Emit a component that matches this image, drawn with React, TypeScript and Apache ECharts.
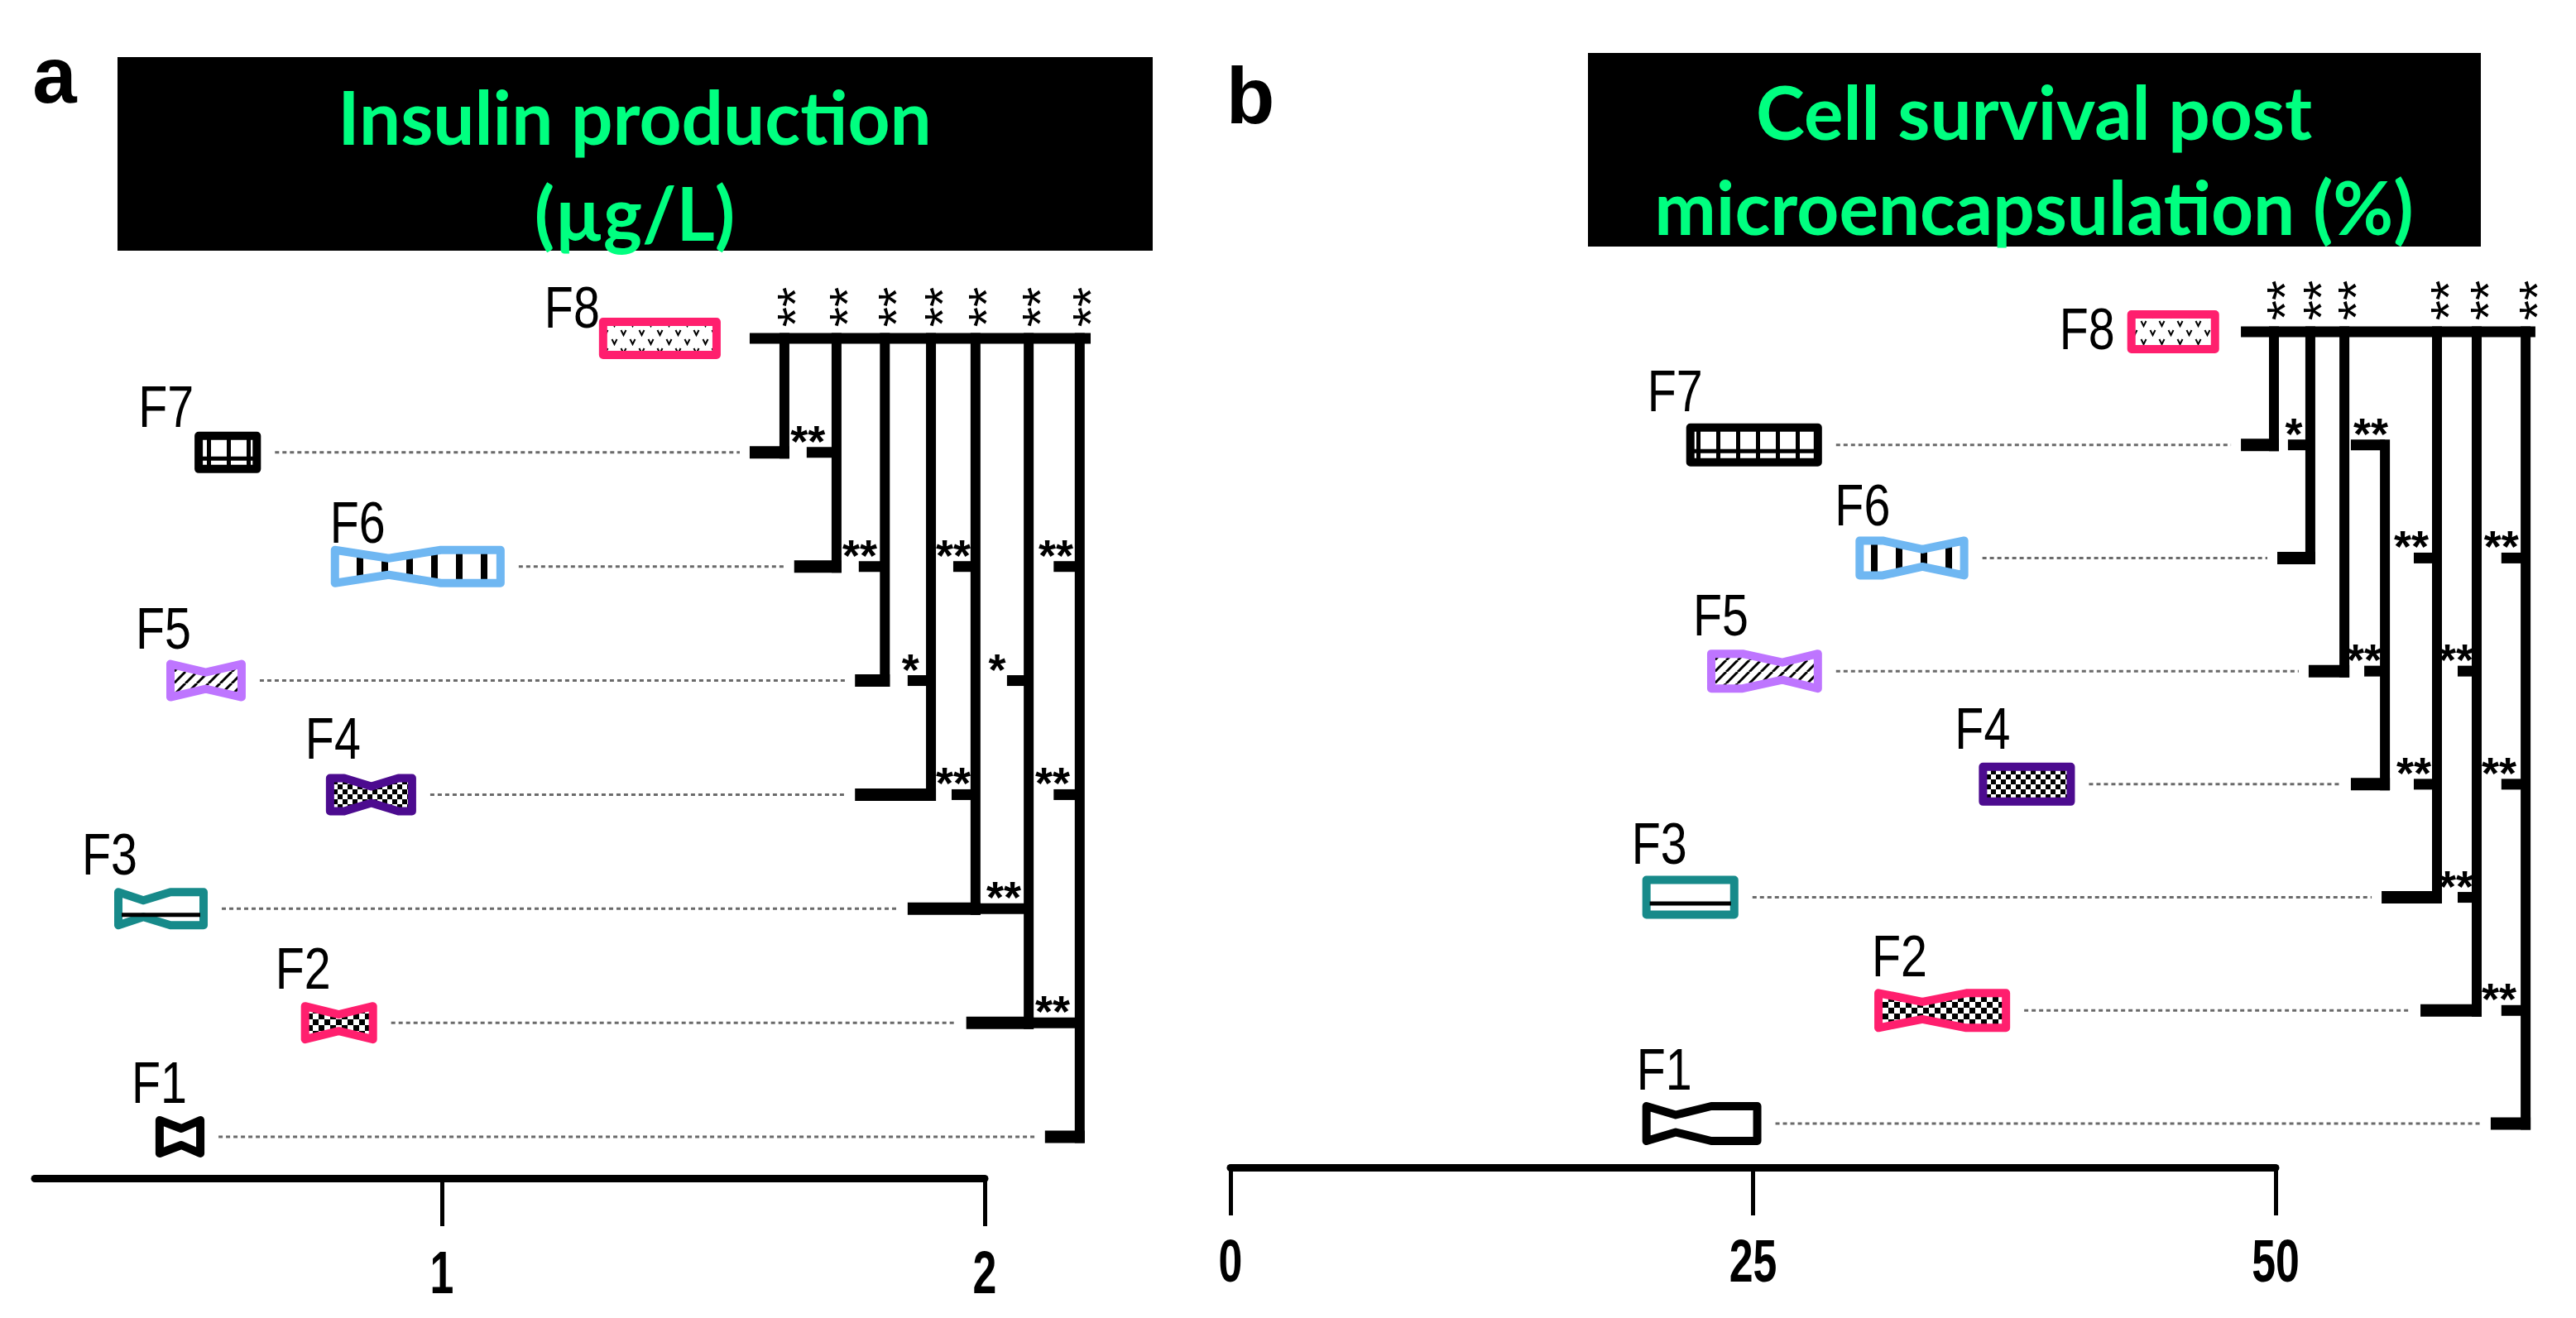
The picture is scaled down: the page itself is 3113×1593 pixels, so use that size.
import React, { useEffect, useRef } from 'react';
import * as echarts from 'echarts';

// ---------------- data ----------------
const CATEGORIES = ['F1', 'F2', 'F3', 'F4', 'F5', 'F6', 'F7', 'F8'];

// Panel a: Insulin production (µg/L)
const A_TICK_VALUES = [1, 2];
const A_Q1 = [0.48, 0.748, 0.404, 0.794, 0.5, 0.803, 0.552, 1.297];
const A_MEDIAN = [0.52, 0.81, 0.45, 0.87, 0.565, 0.902, 0.6, 1.4];
const A_Q3 = [0.555, 0.873, 0.561, 0.945, 0.631, 1.108, 0.659, 1.506];
const A_NOTCH_LO = [0.48, 0.748, 0.404, 0.82, 0.5, 0.803, 0.6, 1.4];
const A_NOTCH_HI = [0.555, 0.873, 0.5, 0.92, 0.631, 0.998, 0.6, 1.4];
// significance brackets (panel a)
const A_TOP_BAR = [1.567, 2.186];
const A_VERT_X = [1.631, 1.727, 1.816, 1.901, 1.983, 2.081, 2.175];
const A_VERT_TOP = ['F8', 'F8', 'F8', 'F8', 'F8', 'F8', 'F8'];
const A_VERT_END = ['F7', 'F6', 'F5', 'F4', 'F3', 'F2', 'F1'];
const A_VERT_FOOT = [1.567, 1.649, 1.761, 1.761, 1.858, 1.966, 2.111];
const A_TICK_CAT = ['F7', 'F6', 'F6', 'F6', 'F5', 'F5', 'F4', 'F4', 'F3', 'F2'];
const A_TICK_FROM = [1.672, 1.768, 1.942, 2.127, 1.858, 2.041, 1.939, 2.127, 1.983, 2.081];
const A_TICK_TO = [1.727, 1.816, 1.983, 2.175, 1.901, 2.081, 1.983, 2.175, 2.081, 2.175];
const A_TICK_MARK = ['**', '**', '**', '**', '*', '*', '**', '**', '**', '**'];
const A_TICK_MARK_X = [1.674, 1.77, 1.942, 2.131, 1.863, 2.023, 1.942, 2.125, 2.035, 2.125];

// Panel b: Cell survival post microencapsulation (%)
const B_TICK_VALUES = [0, 25, 50];
const B_Q1 = [19.9, 31.0, 19.9, 36.0, 23.0, 30.1, 22.0, 43.1];
const B_MEDIAN = [21.3, 33.1, 22.0, 38.0, 26.4, 33.1, 25.0, 45.0];
const B_Q3 = [25.2, 37.1, 24.1, 40.2, 28.1, 35.1, 28.1, 47.1];
const B_NOTCH_LO = [19.9, 31.0, 22.0, 38.0, 24.5, 31.2, 25.0, 45.0];
const B_NOTCH_HI = [23.0, 35.2, 22.0, 38.0, 28.1, 35.1, 25.0, 45.0];
const B_TOP_BAR = [48.34, 62.19];
const B_VERT_X = [49.92, 51.66, 53.29, 55.23, 57.72, 59.62, 61.96];
const B_VERT_TOP = ['F8', 'F8', 'F8', 'F7', 'F8', 'F8', 'F8'];
const B_VERT_END = ['F7', 'F6', 'F5', 'F4', 'F3', 'F2', 'F1'];
const B_VERT_FOOT = [48.34, 50.08, 51.58, 53.6, 55.07, 56.93, 60.29];
const B_TICK_CAT = ['F7', 'F7', 'F6', 'F6', 'F5', 'F5', 'F4', 'F4', 'F3', 'F2'];
const B_TICK_FROM = [50.59, 53.6, 56.61, 60.8, 54.24, 58.71, 56.61, 60.8, 58.71, 60.8];
const B_TICK_TO = [51.66, 55.23, 57.72, 61.96, 55.23, 59.62, 57.72, 61.96, 59.62, 61.96];
const B_TICK_MARK = ['*', '**', '**', '**', '**', '**', '**', '**', '**', '**'];
const B_TICK_MARK_X = [50.87, 54.55, 56.49, 60.8, 54.24, 58.63, 56.61, 60.69, 58.63, 60.69];

// ---------------- styles ----------------
const BOX_COLORS = ['#000000', '#FF1F6E', '#178A8A', '#4C0B8F', '#BE75FF', '#6FB7F2', '#000000', '#FF1F6E'];
const BOX_PATTERNS = ['plain', 'check', 'plain', 'checkFine', 'hatch', 'vbars', 'thinbars', 'sparkle'];
const BOX_INNER_LINE = [false, false, true, false, false, false, true, false];
const A_LABEL_DX = [-34, -36, -44, -30, -42, -6, -6, -4];
const A_LABEL_DY = [-40, -40, -40, -42, -38, -28, -30, -12];
const A_LABEL_ALIGN = ['left', 'left', 'left', 'left', 'left', 'left', 'right', 'right'];
const B_LABEL_DX = [-12, -8, -18, -34, -22, -30, -52, -20];
const B_LABEL_DY = [-40, -40, -40, -42, -42, -38, -40, 22];
const B_LABEL_ALIGN = ['left', 'left', 'left', 'left', 'left', 'left', 'left', 'right'];

const FONT_SANS = 'Liberation Sans, Arial, Helvetica, sans-serif';
const FONT_TITLE = 'Lato, Open Sans, sans-serif';
const GREEN = '#00FF80';

const T_VERT = 12;
const T_BAR = 13;
const T_FOOT = 15;
const T_TICK = 13;

function makeTile(kind: string) {
  const dims: Record<string, [number, number]> = {
    sparkle: [22, 22],
    thinbars: [24, 8],
    vbars: [30, 8],
    hatch: [14, 14],
    checkFine: [12, 12],
    check: [14, 14],
    plain: [8, 8],
  };
  const [w, h] = dims[kind];
  const canvas = document.createElement('canvas');
  canvas.width = w;
  canvas.height = h;
  const g = canvas.getContext('2d') as CanvasRenderingContext2D;
  g.fillStyle = '#ffffff';
  g.fillRect(0, 0, w, h);
  g.fillStyle = '#000000';
  g.strokeStyle = '#000000';
  if (kind === 'sparkle') {
    g.lineWidth = 2;
    const v = (x: number, y: number) => {
      g.beginPath();
      g.moveTo(x - 3, y - 3);
      g.lineTo(x, y + 3);
      g.lineTo(x + 3, y - 3);
      g.stroke();
    };
    v(5.5, 6);
    v(16.5, 17);
  } else if (kind === 'thinbars') {
    g.fillRect(10, 0, 5, h);
  } else if (kind === 'vbars') {
    g.fillRect(11, 0, 8, h);
  } else if (kind === 'hatch') {
    g.lineWidth = 3;
    for (const o of [-14, 0, 14]) {
      g.beginPath();
      g.moveTo(o, 14);
      g.lineTo(o + 14, 0);
      g.stroke();
    }
  } else if (kind === 'checkFine') {
    g.fillRect(0, 0, 6, 6);
    g.fillRect(6, 6, 6, 6);
  } else if (kind === 'check') {
    g.fillRect(0, 0, 7, 7);
    g.fillRect(7, 7, 7, 7);
  }
  return { image: canvas.toDataURL(), imageWidth: w, imageHeight: h, repeat: 'repeat' };
}

type Panel = {
  idx: number;
  q1: number[]; med: number[]; q3: number[]; nlo: number[]; nhi: number[];
  topBar: number[]; vertX: number[]; vertTop: string[]; vertEnd: string[]; vertFoot: number[];
  tickCat: string[]; tickFrom: number[]; tickTo: number[]; tickMark: string[]; tickMarkX: number[];
  labelDx: number[]; labelDy: number[]; labelAlign: string[]; halfH: number;
  ticks: number[]; tickLabelDy: number;
};

function boxSeries(p: Panel, tiles: Record<string, any>) {
  const data = CATEGORIES.map((c, i) => [i, p.q1[i], p.med[i], p.q3[i], p.nlo[i], p.nhi[i]]);
  return {
    type: 'custom',
    xAxisIndex: p.idx,
    yAxisIndex: p.idx,
    silent: true,
    clip: false,
    z: 3,
    data,
    encode: { x: [1, 2, 3, 4, 5], y: 0 },
    renderItem: (params: any, api: any) => {
      const i = params.dataIndex;
      const ci = api.value(0);
      const X = (v: number) => api.coord([v, ci])[0];
      const cy = api.coord([api.value(1), ci])[1];
      const x1 = X(api.value(1));
      const xm = X(api.value(2));
      const x3 = X(api.value(3));
      const xlo = X(api.value(4));
      const xhi = X(api.value(5));
      const h = p.halfH;
      const hn = h * 0.5;
      let top: number[][];
      if (xhi - xlo < 0.5) {
        top = [[x1, cy - h], [x3, cy - h]];
      } else {
        top = [[x1, cy - h]];
        if (xlo > x1 + 0.5) top.push([xlo, cy - h]);
        top.push([xm, cy - hn]);
        if (xhi < x3 - 0.5) top.push([xhi, cy - h]);
        top.push([x3, cy - h]);
      }
      const bottom = top.map(([x, y]) => [x, 2 * cy - y]).reverse();
      const pts = top.concat(bottom);
      const children: any[] = [
        {
          type: 'polygon',
          shape: { points: pts },
          style: {
            fill: tiles[BOX_PATTERNS[i]],
            stroke: BOX_COLORS[i],
            lineWidth: 10,
            lineJoin: 'round',
          },
        },
      ];
      if (BOX_INNER_LINE[i]) {
        children.push({
          type: 'rect',
          shape: { x: x1 + 4, y: cy + 5, width: x3 - x1 - 8, height: 5 },
          style: { fill: '#000' },
        });
      }
      const align = p.labelAlign[i];
      children.push({
        type: 'text',
        x: x1 + p.labelDx[i],
        y: cy + p.labelDy[i] - 25,
        scaleX: 0.82,
        style: {
          text: CATEGORIES[i],
          fill: '#000',
          fontSize: 70,
          fontFamily: FONT_SANS,
          textAlign: align,
          verticalAlign: 'middle',
          textVerticalAlign: 'middle',
        },
      });
      return { type: 'group', children };
    },
  };
}

function tickLabelSeries(p: Panel) {
  return {
    type: 'custom',
    xAxisIndex: p.idx,
    yAxisIndex: p.idx,
    silent: true,
    clip: false,
    z: 5,
    data: p.ticks.map((v) => [v, 0]),
    encode: { x: 0, y: 1 },
    renderItem: (params: any, api: any) => {
      const v = api.value(0);
      const pt = api.coord([v, 0]);
      return {
        type: 'text',
        x: pt[0],
        y: pt[1] + p.tickLabelDy,
        scaleX: 0.72,
        style: {
          text: String(v),
          fill: '#000',
          fontSize: 72,
          fontWeight: 'bold',
          fontFamily: FONT_SANS,
          textAlign: 'center',
          verticalAlign: 'middle',
          textVerticalAlign: 'middle',
        },
      };
    },
  };
}

function bracketSeries(p: Panel) {
  const pieces: { kind: string; value: number[]; text?: string }[] = [];
  const F8 = CATEGORIES.indexOf('F8');
  CATEGORIES.forEach((c, ci) => {
    if (c === 'F8') return;
    const starts: number[] = [];
    p.vertEnd.forEach((e, k) => { if (e === c) starts.push(p.vertFoot[k]); });
    p.tickCat.forEach((t, k) => { if (t === c) starts.push(p.tickFrom[k]); });
    if (!starts.length) return;
    pieces.push({ kind: 'dot', value: [p.q3[ci], ci, Math.min(...starts), ci] });
  });
  pieces.push({ kind: 'bar', value: [p.topBar[0], F8, p.topBar[1], F8] });
  p.vertX.forEach((x, k) => {
    const t = CATEGORIES.indexOf(p.vertTop[k]);
    const e = CATEGORIES.indexOf(p.vertEnd[k]);
    pieces.push({ kind: 'vert', value: [x, t, x, e] });
    pieces.push({ kind: 'foot', value: [p.vertFoot[k], e, x, e] });
    if (p.vertTop[k] === 'F8') pieces.push({ kind: 'vmark', value: [x, t, x, t], text: '**' });
  });
  p.tickCat.forEach((c, k) => {
    const ci = CATEGORIES.indexOf(c);
    pieces.push({ kind: 'tick', value: [p.tickFrom[k], ci, p.tickTo[k], ci] });
    pieces.push({ kind: 'mark', value: [p.tickMarkX[k], ci, p.tickMarkX[k], ci], text: p.tickMark[k] });
  });
  return {
    type: 'custom',
    xAxisIndex: p.idx,
    yAxisIndex: p.idx,
    silent: true,
    clip: false,
    z: 4,
    data: pieces.map((pc) => pc.value),
    encode: { x: [0, 2], y: [1, 3] },
    renderItem: (params: any, api: any) => {
      const pc = pieces[params.dataIndex];
      const a = api.coord([api.value(0), api.value(1)]);
      const b = api.coord([api.value(2), api.value(3)]);
      const black = { fill: '#000' };
      switch (pc.kind) {
        case 'dot':
          return {
            type: 'line',
            shape: { x1: a[0] + 22, y1: a[1], x2: b[0] - 12, y2: b[1] },
            style: { stroke: '#6a6a6a', lineWidth: 3, lineDash: [5, 4] },
          };
        case 'bar':
          return { type: 'rect', shape: { x: a[0], y: a[1] - T_BAR / 2, width: b[0] - a[0] + T_VERT / 2, height: T_BAR }, style: black };
        case 'vert':
          return {
            type: 'rect',
            shape: { x: a[0] - T_VERT / 2, y: a[1] - T_BAR / 2, width: T_VERT, height: b[1] - a[1] + T_BAR / 2 + T_FOOT / 2 },
            style: black,
          };
        case 'foot':
          return { type: 'rect', shape: { x: a[0], y: a[1] - T_FOOT / 2, width: b[0] - a[0] + T_VERT / 2, height: T_FOOT }, style: black };
        case 'tick':
          return { type: 'rect', shape: { x: a[0], y: a[1] - T_TICK / 2, width: b[0] - a[0], height: T_TICK }, style: black };
        case 'mark':
          return {
            type: 'text',
            x: a[0],
            y: a[1] - 14,
            style: {
              text: pc.text, fill: '#000', fontSize: 54, fontWeight: 'bold', fontFamily: FONT_SANS,
              textAlign: 'center', verticalAlign: 'middle', textVerticalAlign: 'middle',
            },
          };
        case 'vmark':
          return {
            type: 'text',
            x: a[0] + 13,
            y: a[1] - 38,
            rotation: Math.PI / 2,
            style: {
              text: pc.text, fill: '#000', fontSize: 62, fontFamily: FONT_SANS,
              textAlign: 'center', verticalAlign: 'middle', textVerticalAlign: 'middle',
            },
          };
        default:
          return null;
      }
    },
  };
}

function xAxisFor(idx: number, min: number, max: number, ticks: number[], offset: number) {
  return {
    gridIndex: idx,
    type: 'value',
    min,
    max,
    position: 'bottom',
    offset,
    axisLine: { show: true, onZero: false, lineStyle: { color: '#000', width: 9 } },
    axisTick: { show: true, inside: false, length: 58, customValues: ticks, lineStyle: { color: '#000', width: 5 } },
    axisLabel: { show: false, customValues: ticks },
    splitLine: { show: false },
  };
}

function yAxisFor(idx: number) {
  return {
    gridIndex: idx,
    type: 'category',
    data: CATEGORIES,
    boundaryGap: false,
    show: false,
  };
}

export default function App() {
  const ref = useRef<HTMLDivElement>(null);
  useEffect(() => {
    if (!ref.current) return;
    const chart = echarts.init(ref.current, undefined, { renderer: 'svg' });
    const tiles: Record<string, any> = {};
    ['sparkle', 'thinbars', 'vbars', 'hatch', 'checkFine', 'check', 'plain'].forEach((k) => { tiles[k] = makeTile(k); });

    const pa: Panel = {
      idx: 0, q1: A_Q1, med: A_MEDIAN, q3: A_Q3, nlo: A_NOTCH_LO, nhi: A_NOTCH_HI,
      topBar: A_TOP_BAR, vertX: A_VERT_X, vertTop: A_VERT_TOP, vertEnd: A_VERT_END, vertFoot: A_VERT_FOOT,
      tickCat: A_TICK_CAT, tickFrom: A_TICK_FROM, tickTo: A_TICK_TO, tickMark: A_TICK_MARK, tickMarkX: A_TICK_MARK_X,
      labelDx: A_LABEL_DX, labelDy: A_LABEL_DY, labelAlign: A_LABEL_ALIGN, halfH: 20,
      ticks: A_TICK_VALUES, tickLabelDy: 164,
    };
    const pb: Panel = {
      idx: 1, q1: B_Q1, med: B_MEDIAN, q3: B_Q3, nlo: B_NOTCH_LO, nhi: B_NOTCH_HI,
      topBar: B_TOP_BAR, vertX: B_VERT_X, vertTop: B_VERT_TOP, vertEnd: B_VERT_END, vertFoot: B_VERT_FOOT,
      tickCat: B_TICK_CAT, tickFrom: B_TICK_FROM, tickTo: B_TICK_TO, tickMark: B_TICK_MARK, tickMarkX: B_TICK_MARK_X,
      labelDx: B_LABEL_DX, labelDy: B_LABEL_DY, labelAlign: B_LABEL_ALIGN, halfH: 21,
      ticks: B_TICK_VALUES, tickLabelDy: 166,
    };

    const titleStyle = (text: string) => ({
      text, fill: GREEN, fontSize: 89, fontWeight: 'bold', fontFamily: FONT_TITLE,
      textAlign: 'center', verticalAlign: 'middle', textVerticalAlign: 'middle',
    });
    const panelLetter = (text: string) => ({
      text, fill: '#000', fontSize: 96, fontWeight: 'bold', fontFamily: FONT_SANS,
      textAlign: 'center', verticalAlign: 'middle', textVerticalAlign: 'middle',
    });

    chart.setOption({
      animation: false,
      backgroundColor: '#ffffff',
      grid: [
        { left: 42, top: 409, width: 1148, height: 965, containLabel: false, outerBoundsMode: 'none' },
        { left: 1487, top: 401, width: 1263, height: 957, containLabel: false, outerBoundsMode: 'none' },
      ],
      xAxis: [
        xAxisFor(0, 0.25, 2, A_TICK_VALUES, 50),
        { ...xAxisFor(1, 0, 50, B_TICK_VALUES, 53), interval: 25 },
      ],
      yAxis: [yAxisFor(0), yAxisFor(1)],
      graphic: [
        { type: 'rect', shape: { x: 142, y: 69, width: 1251, height: 234 }, style: { fill: '#000' } },
        { type: 'text', x: 767, y: 140, style: titleStyle('Insulin production') },
        { type: 'text', x: 767, y: 256, style: titleStyle('(µg/L)') },
        { type: 'rect', shape: { x: 1919, y: 64, width: 1079, height: 234 }, style: { fill: '#000' } },
        { type: 'text', x: 2458, y: 134, style: titleStyle('Cell survival post') },
        { type: 'text', x: 2458, y: 249, style: titleStyle('microencapsulation (%)') },
        { type: 'text', x: 66, y: 90, style: panelLetter('a') },
        { type: 'text', x: 1511, y: 115, style: panelLetter('b') },
      ],
      series: [
        bracketSeries(pa),
        boxSeries(pa, tiles),
        tickLabelSeries(pa),
        bracketSeries(pb),
        boxSeries(pb, tiles),
        tickLabelSeries(pb),
      ],
    });
    return () => chart.dispose();
  }, []);
  return (
    <div
      ref={ref}
      style={{ position: 'absolute', left: 0, top: 0, width: 3113, height: 1593, background: '#fff' }}
    />
  );
}
